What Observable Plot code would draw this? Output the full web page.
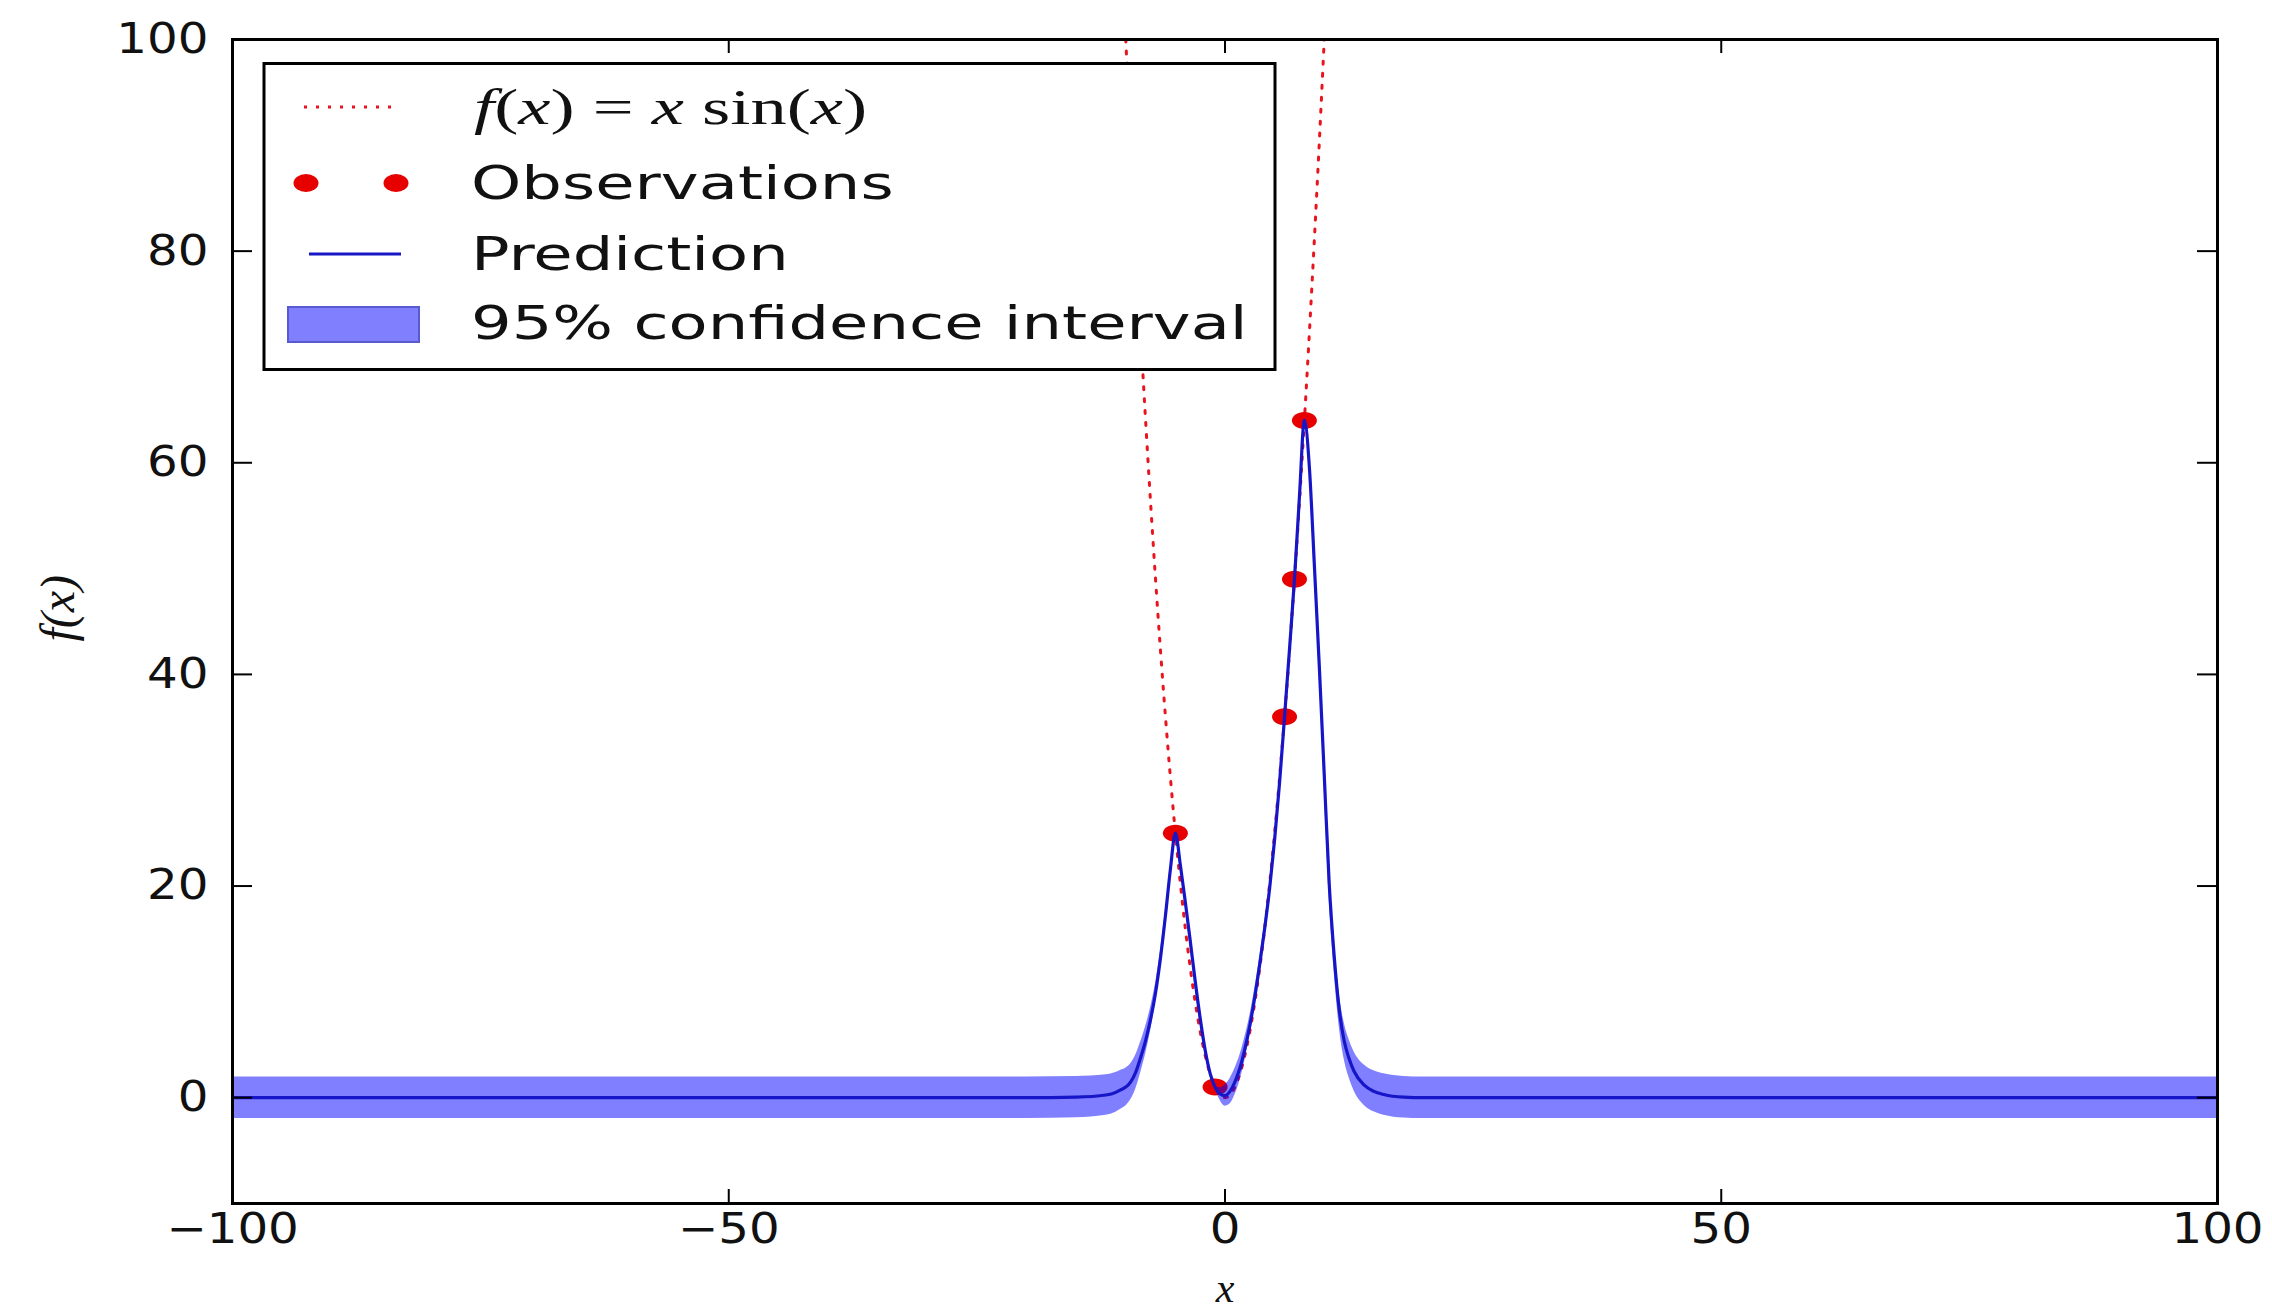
<!DOCTYPE html>
<html><head><meta charset="utf-8">
<script src="https://cdn.jsdelivr.net/npm/d3@7"></script>
<script src="https://cdn.jsdelivr.net/npm/@observablehq/plot@0.6"></script>
<style>html,body{margin:0;padding:0;background:#fff;} svg{display:block}</style>
</head><body>
<script>
// ---- data ----
const xTicks = [-100, -50, 0, 50, 100];
const yTicks = [0, 20, 40, 60, 80, 100];

const obsX = [-5, -1, 6, 7, 8];
const obsY = [25, 1, 36, 49, 64];

// dotted "true function" curve
const trueX = [-10.5,-10,-9.5,-9,-8.5,-8,-7.5,-7,-6.5,-6,-5.5,-5,-4.5,-4,-3.5,-3,-2.5,-2,-1.5,-1,-0.5,0,
               0.5,1,1.5,2,2.5,3,3.5,4,4.5,5,5.5,6,6.5,7,7.5,8,8.5,9,9.5,10,10.5];
const trueY = [110.25,100,90.25,81,72.25,64,56.25,49,42.25,36,30.25,25,20.25,16,12.25,9,6.25,4,2.25,1,0.25,0,
               0.25,1,2.25,4,6.25,9,12.25,16,20.25,25,30.25,36,42.25,49,56.25,64,72.25,81,90.25,100,110.25];

// prediction (mean) and 95% half-width
const predX    = [-100,-20,-15,-12,-11,-10.5,-10,-9.5,-9,-8.5,-8,-7.5,-7,-6.5,-6,-5.5,-5,
                  -4.5,-4,-3.5,-3,-2.5,-2,-1.5,-1,-0.5,
                  0,0.5,1,1.5,2,2.5,3,3.5,4,4.5,5,5.5,6,6.5,7,7.5,8,
                  8.5,9,9.5,10,10.5,11,11.5,12,12.5,13,
                  14,15,16,18,20,100];
const predMean = [0,0,0.05,0.25,0.5,0.75,1.0,1.5,2.4,3.8,5.4,7.4,9.9,13.2,17.2,21.6,25.0,
                  22.0,18.5,14.8,11.0,7.5,4.5,2.3,1.0,0.35,
                  0.2,0.6,1.5,2.8,4.6,6.8,9.5,12.6,16.0,19.8,24.4,29.8,36.0,42.4,49.0,56.8,64.0,
                  59.6,50.4,40.8,30.5,20.2,13.4,8.4,5.4,3.7,2.5,
                  1.2,0.6,0.3,0.05,0,0];
const predHalf = [1.96,1.96,1.95,1.92,1.88,1.84,1.78,1.7,1.6,1.46,1.3,1.1,0.9,0.68,0.45,0.22,0.05,
                  0.25,0.45,0.6,0.65,0.6,0.45,0.25,0.05,0.6,
                  1.0,1.2,1.25,1.2,1.1,0.95,0.8,0.7,0.6,0.5,0.38,0.2,0.05,0.08,0.05,0.08,0.05,
                  0.35,0.65,0.9,1.15,1.35,1.5,1.62,1.72,1.8,1.85,
                  1.91,1.94,1.95,1.96,1.96,1.96];

const legendLabels = ["Observations", "Prediction", "95% confidence interval"];

// ---- tables ----
const obs = obsX.map((x, i) => ({x, y: obsY[i]}));
const truth = trueX.map((x, i) => ({x, y: trueY[i]}));
const pred = predX.map((x, i) => ({x, mean: predMean[i], lo: predMean[i] - predHalf[i], hi: predMean[i] + predHalf[i]}));

// ellipse marker (matplotlib "r." looks stretched in the reference)
const ellipse = {
  draw(ctx) {
    const rx = 12.5, ry = 8.5, k = 0.5523;
    ctx.moveTo(rx, 0);
    ctx.bezierCurveTo(rx, ry * k, rx * k, ry, 0, ry);
    ctx.bezierCurveTo(-rx * k, ry, -rx, ry * k, -rx, 0);
    ctx.bezierCurveTo(-rx, -ry * k, -rx * k, -ry, 0, -ry);
    ctx.bezierCurveTo(rx * k, -ry, rx, -ry * k, rx, 0);
    ctx.closePath();
  }
};

const W = 2272, H = 1313, mL = 232, mR = 55, mT = 39, mB = 110;
const fw = W - mL - mR, fh = H - mT - mB;

const chart = Plot.plot({
  width: W, height: H,
  marginLeft: mL, marginRight: mR, marginTop: mT, marginBottom: mB,
  x: {domain: [-100, 100]},
  y: {domain: [-10, 100]},
  style: {fontFamily: "DejaVu Sans", fontSize: "42px", color: "#111", background: "#fff"},
  marks: [
    Plot.line(truth, {x: "x", y: "y", stroke: "#e8141e", strokeWidth: 3, strokeDasharray: "3,9", curve: "catmull-rom", clip: true}),
    Plot.dot(obs, {x: "x", y: "y", symbol: ellipse, r: 10, fill: "#e60000", stroke: "none"}),
    Plot.areaY(pred, {x: "x", y1: "lo", y2: "hi", fill: "#0000ff", fillOpacity: 0.5, curve: "monotone-x"}),
    Plot.line(pred, {x: "x", y: "mean", stroke: "#1616c8", strokeWidth: 3.2, curve: "monotone-x"}),
    // inward ticks on all four sides
    Plot.ruleX(xTicks, {insetTop: fh - 14, stroke: "#000", strokeWidth: 2}),
    Plot.ruleX(xTicks, {insetBottom: fh - 14, stroke: "#000", strokeWidth: 2}),
    Plot.ruleY(yTicks, {insetRight: fw - 20, stroke: "#000", strokeWidth: 2}),
    Plot.ruleY(yTicks, {insetLeft: fw - 20, stroke: "#000", strokeWidth: 2}),
    Plot.frame({stroke: "#000", strokeWidth: 3}),
    Plot.axisX(xTicks, {anchor: "bottom", tickSize: 0, tickPadding: 10, label: null}),
    Plot.axisY(yTicks, {anchor: "left", tickSize: 0, tickPadding: 24, label: null}),
    Plot.text(["x"], {text: d => d, frameAnchor: "bottom", dy: 98, fontFamily: "Liberation Serif", fontStyle: "italic", fontSize: 42}),
    Plot.text(["f(x)"], {text: d => d, frameAnchor: "left", dx: -174, dy: 20, rotate: -90, fontFamily: "Liberation Serif", fontStyle: "italic", fontSize: 48})
  ]
});
document.body.appendChild(chart);

function stretch(sel, k) {
  sel.each(function() {
    const L = this.getComputedTextLength();
    this.setAttribute("textLength", (L * k).toFixed(1));
    this.setAttribute("lengthAdjust", "spacingAndGlyphs");
  });
}

// widen tick labels slightly (reference glyphs are horizontally stretched)
stretch(d3.select(chart).selectAll("[aria-label='x-axis tick label'] text, [aria-label='y-axis tick label'] text"), 1.15);

// ---- legend ----
const svg = d3.select(chart);
const g = svg.append("g").attr("text-anchor", "start");
g.append("rect").attr("x", 264).attr("y", 63.5).attr("width", 1011).attr("height", 306)
  .attr("fill", "#fff").attr("stroke", "#000").attr("stroke-width", 3);
g.append("line").attr("x1", 304).attr("x2", 391).attr("y1", 107).attr("y2", 107)
  .attr("stroke", "#e8141e").attr("stroke-width", 3).attr("stroke-dasharray", "3,9");
[306, 396].forEach(cx => g.append("ellipse").attr("cx", cx).attr("cy", 183).attr("rx", 12.5).attr("ry", 9).attr("fill", "#e60000"));
g.append("line").attr("x1", 309).attr("x2", 401).attr("y1", 254).attr("y2", 254)
  .attr("stroke", "#1616c8").attr("stroke-width", 3);
g.append("rect").attr("x", 288).attr("y", 307).attr("width", 131).attr("height", 35)
  .attr("fill", "#8080ff").attr("stroke", "#5a5ad0").attr("stroke-width", 2);

const mt = g.append("text").attr("x", 474).attr("y", 107).attr("dominant-baseline", "central")
  .attr("text-anchor", "start")
  .attr("font-family", "Liberation Serif").attr("font-size", 50).attr("fill", "#111");
[["f", true], ["(", false], ["x", true], [")", false], [" = ", false], ["x", true], [" sin", false], ["(", false], ["x", true], [")", false]]
  .forEach(([t, it]) => mt.append("tspan").attr("font-style", it ? "italic" : "normal").text(t));
stretch(mt, 1.45);

const rowsY = [183, 254, 323];
const lt = legendLabels.map((t, i) =>
  g.append("text").attr("x", 471).attr("y", rowsY[i]).attr("dominant-baseline", "central")
    .attr("text-anchor", "start")
    .attr("font-family", "DejaVu Sans").attr("font-size", 46).attr("fill", "#111").text(t));
lt.forEach(s => stretch(s, 1.39));
</script>
</body></html>
